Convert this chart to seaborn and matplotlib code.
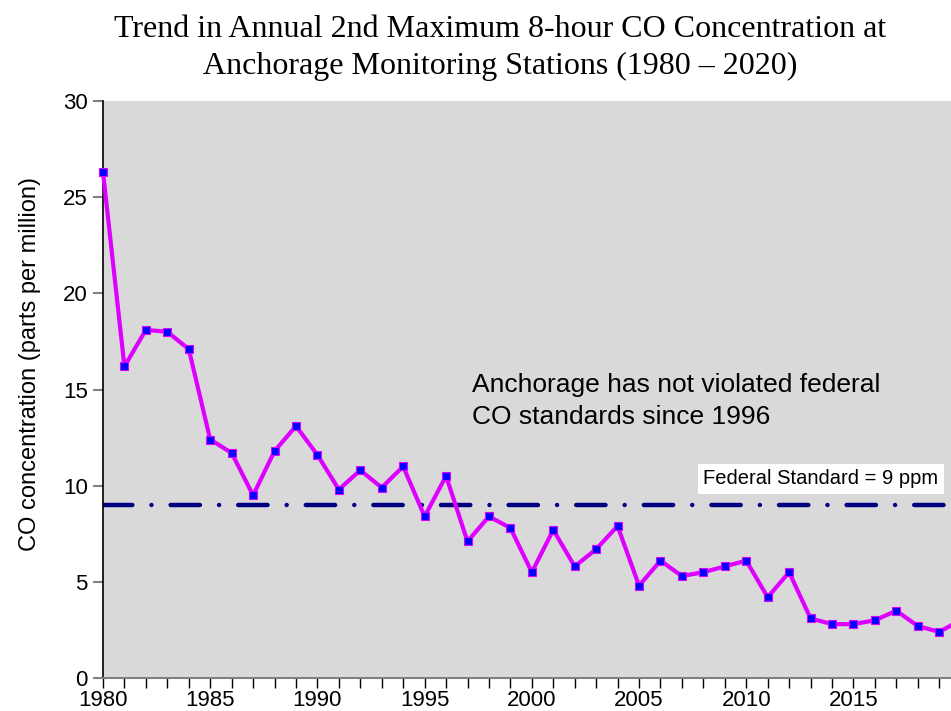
import numpy as np
import pandas as pd
import matplotlib
matplotlib.use("Agg")
import matplotlib.pyplot as plt
import seaborn as sns
from matplotlib.ticker import MultipleLocator

years = list(range(1980, 2021))
co_ppm = [26.3, 16.2, 18.1, 18.0, 17.1, 12.4, 11.7, 9.5, 11.8, 13.1,
          11.6, 9.8, 10.8, 9.9, 11.0, 8.4, 10.5, 7.1, 8.4, 7.8,
          5.5, 7.7, 5.8, 6.7, 7.9, 4.8, 6.1, 5.3, 5.5, 5.8,
          6.1, 4.2, 5.5, 3.1, 2.8, 2.8, 3.0, 3.5, 2.7, 2.4, 3.0]
federal_standard = 9

df = pd.DataFrame({"year": years, "co": co_ppm})

sns.set_style("white")
plt.rcParams["font.family"] = ["Liberation Sans", "DejaVu Sans"]
plt.rcParams["text.color"] = "black"
plt.rcParams["axes.labelcolor"] = "black"
plt.rcParams["xtick.labelcolor"] = "black"
plt.rcParams["ytick.labelcolor"] = "black"

fig = plt.figure(figsize=(9.51, 7.11), dpi=100)
ax = fig.add_axes([103 / 951, 33 / 711, 848 / 951, 577 / 711])
ax.set_facecolor("#d9d9d9")

ax.axhline(federal_standard, color="#000080", lw=3.2,
           linestyle=(0, (6.6, 4.3, 0.01, 4.3)), dash_capstyle="round",
           zorder=2)

sns.lineplot(data=df, x="year", y="co", ax=ax, color="#dd00ff", lw=3,
             marker="s", markersize=6, markerfacecolor="#0000ff",
             markeredgecolor="#dd00ff", markeredgewidth=0.8,
             clip_on=False, zorder=3)

ax.set_xlim(1980, 2019.55)
ax.set_ylim(0, 30)
ax.xaxis.set_major_locator(MultipleLocator(5))
ax.xaxis.set_minor_locator(MultipleLocator(1))
ax.yaxis.set_major_locator(MultipleLocator(5))
ax.tick_params(axis="x", which="both", direction="out", length=7,
               width=1, color="black", labelsize=16, pad=2)
ax.tick_params(axis="y", direction="out", length=7, width=1.5,
               color="#808080", labelsize=16, pad=4)
ax.xaxis.set_tick_params(bottom=True, which="both")
ax.yaxis.set_tick_params(left=True)

for s in ["top", "right"]:
    ax.spines[s].set_visible(False)
ax.spines["left"].set_color("black")
ax.spines["left"].set_linewidth(1.2)
ax.spines["bottom"].set_color("#808080")
ax.spines["bottom"].set_linewidth(1.5)

ax.set_xlabel("")
ax.set_ylabel("CO concentration (parts per million)", fontsize=17)
ax.yaxis.set_label_coords(-0.073, 0.544)

fig.text(500 / 951, 1 - 48 / 711,
         "Trend in Annual 2nd Maximum 8-hour CO Concentration at\n"
         "Anchorage Monitoring Stations (1980 \u2013 2020)",
         ha="center", va="center", fontsize=23, family="Liberation Serif",
         linespacing=1.35)

ax.text(1997.2, 14.4, "Anchorage has not violated federal\nCO standards since 1996",
        fontsize=19, ha="left", va="center", linespacing=1.45)

ax.text(2008.0, 10.35, "Federal Standard = 9 ppm", fontsize=14.5,
        ha="left", va="center",
        bbox=dict(facecolor="white", edgecolor="none", pad=4))

fig.savefig("out.png", dpi=100)
